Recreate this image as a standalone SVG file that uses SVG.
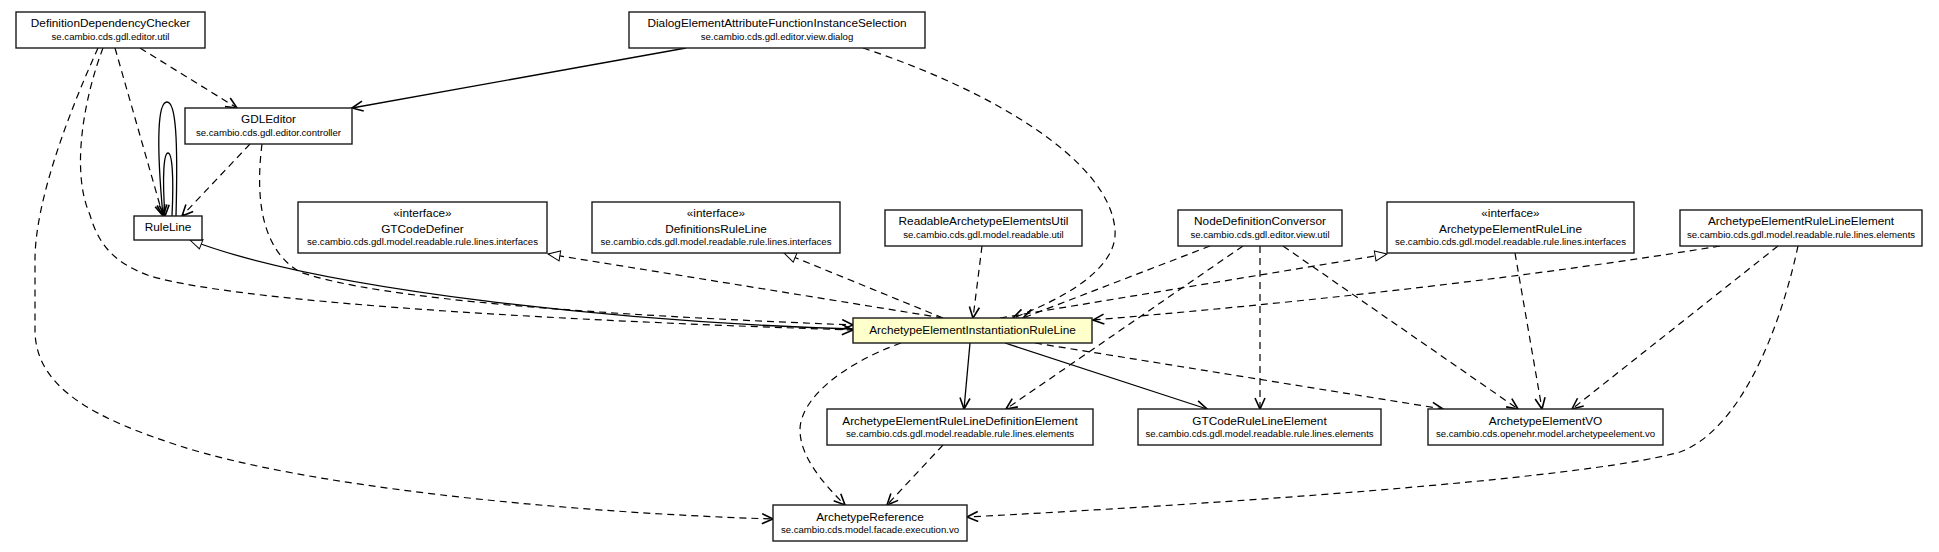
<svg xmlns="http://www.w3.org/2000/svg" width="1939" height="552" viewBox="0 0 1939 552">
<style>
.box{fill:#fff;stroke:#1a1a1a;stroke-width:1.4}
.hl{fill:#ffffcc;stroke:#1a1a1a;stroke-width:1.4}
.t{font-family:"Liberation Sans",Arial,sans-serif;font-size:11.8px;fill:#000;text-anchor:middle}
.p{font-family:"Liberation Sans",Arial,sans-serif;font-size:9.6px;fill:#000;text-anchor:middle}
.dep{fill:none;stroke:#000;stroke-width:1.2;stroke-dasharray:7,5;marker-end:url(#open)}
.use{fill:none;stroke:#000;stroke-width:1.3;marker-end:url(#open)}
.ext{fill:none;stroke:#000;stroke-width:1.3;marker-end:url(#tri)}
.impl{fill:none;stroke:#000;stroke-width:1.2;stroke-dasharray:7,5;marker-end:url(#tri)}
</style>
<defs>
<marker id="open" markerWidth="14" markerHeight="12" refX="12" refY="6" orient="auto" markerUnits="userSpaceOnUse"><path d="M1,1 L12,6 L1,11" fill="none" stroke="#000" stroke-width="1.6"/></marker>
<marker id="tri" markerWidth="15" markerHeight="13" refX="13" refY="6.5" orient="auto" markerUnits="userSpaceOnUse"><path d="M1,1.5 L13,6.5 L1,11.5 Z" fill="#fff" stroke="#000" stroke-width="1"/></marker>
</defs>
<rect width="1939" height="552" fill="#fff"/>
<g id="connectors">
<path class="dep" d="M140,48 L237,108"/>
<path class="dep" d="M115,48 L163,216"/>
<path class="dep" d="M103,48 C85,95 70,170 90,215 C100,250 120,265 150,276 C250,305 600,322 853,330"/>
<path class="dep" d="M98,48 C70,110 35,200 35,260 L35,330 C35,390 100,420 180,446 C300,485 550,512 773,519"/>
<path class="use" d="M686,48 L352,108"/>
<path class="dep" d="M863,48 C990,90 1110,160 1115,230 C1118,270 1060,300 1013,318"/>
<path class="use" d="M176,216 C178,140 176,102 167,102 C158,102 156,140 163,216"/>
<path class="use" d="M172,216 C174,175 172,153 168,153 C164,153 162,175 165,216"/>
<path class="dep" d="M250,144 L182,216"/>
<path class="dep" d="M262,144 C255,200 262,250 300,272 C380,300 600,315 853,325"/>
<path class="ext" d="M853,329 C620,322 320,290 190,240"/>
<path class="impl" d="M943,318 L548,254"/>
<path class="impl" d="M943,318 L784,253"/>
<path class="impl" d="M1000,318 L1387,254"/>
<path class="dep" d="M982,246 L973,318"/>
<path class="dep" d="M1210,246 L1023,318"/>
<path class="dep" d="M1243,246 L1006,409"/>
<path class="dep" d="M1260,246 L1260,409"/>
<path class="dep" d="M1283,246 L1518,409"/>
<path class="dep" d="M1515,253 L1542,409"/>
<path class="dep" d="M1720,246 Q1450,290 1093,320"/>
<path class="dep" d="M1778,246 L1572,409"/>
<path class="dep" d="M1798,246 C1780,330 1740,430 1680,452 C1580,480 1200,505 967,517"/>
<path class="use" d="M970,343 L964,409"/>
<path class="use" d="M1005,343 L1207,409"/>
<path class="dep" d="M1035,343 L1443,409"/>
<path class="dep" d="M901,343 C840,365 800,400 800,430 C800,460 830,490 845,505"/>
<path class="dep" d="M943,445 L887,505"/>
</g>
<g id="DefinitionDependencyChecker"><rect class="box" x="16" y="12" width="189" height="36"/><text class="t" x="110.5" y="27">DefinitionDependencyChecker</text><text class="p" x="110.5" y="39.5">se.cambio.cds.gdl.editor.util</text></g>
<g id="DialogElementAttributeFunctionInstanceSelection"><rect class="box" x="629" y="12" width="296" height="36"/><text class="t" x="777" y="27">DialogElementAttributeFunctionInstanceSelection</text><text class="p" x="777" y="39.5">se.cambio.cds.gdl.editor.view.dialog</text></g>
<g id="GDLEditor"><rect class="box" x="185" y="108" width="167" height="36"/><text class="t" x="268.5" y="123">GDLEditor</text><text class="p" x="268.5" y="135.5">se.cambio.cds.gdl.editor.controller</text></g>
<g id="RuleLine"><rect class="box" x="134" y="216" width="68" height="24"/><text class="t" x="168" y="230.5">RuleLine</text></g>
<g id="GTCodeDefiner"><rect class="box" x="298" y="202" width="249" height="51"/><text class="t" x="422.5" y="216.5">«interface»</text><text class="t" x="422.5" y="232.5">GTCodeDefiner</text><text class="p" x="422.5" y="245">se.cambio.cds.gdl.model.readable.rule.lines.interfaces</text></g>
<g id="DefinitionsRuleLine"><rect class="box" x="592" y="202" width="248" height="51"/><text class="t" x="716" y="216.5">«interface»</text><text class="t" x="716" y="232.5">DefinitionsRuleLine</text><text class="p" x="716" y="245">se.cambio.cds.gdl.model.readable.rule.lines.interfaces</text></g>
<g id="ReadableArchetypeElementsUtil"><rect class="box" x="885" y="210" width="197" height="36"/><text class="t" x="983.5" y="225">ReadableArchetypeElementsUtil</text><text class="p" x="983.5" y="237.5">se.cambio.cds.gdl.model.readable.util</text></g>
<g id="NodeDefinitionConversor"><rect class="box" x="1178" y="210" width="164" height="36"/><text class="t" x="1260" y="225">NodeDefinitionConversor</text><text class="p" x="1260" y="237.5">se.cambio.cds.gdl.editor.view.util</text></g>
<g id="ArchetypeElementRuleLine"><rect class="box" x="1387" y="202" width="247" height="51"/><text class="t" x="1510.5" y="216.5">«interface»</text><text class="t" x="1510.5" y="232.5">ArchetypeElementRuleLine</text><text class="p" x="1510.5" y="245">se.cambio.cds.gdl.model.readable.rule.lines.interfaces</text></g>
<g id="ArchetypeElementRuleLineElement"><rect class="box" x="1680" y="210" width="242" height="36"/><text class="t" x="1801" y="225">ArchetypeElementRuleLineElement</text><text class="p" x="1801" y="237.5">se.cambio.cds.gdl.model.readable.rule.lines.elements</text></g>
<g id="ArchetypeElementInstantiationRuleLine"><rect class="hl" x="853" y="318" width="239" height="25"/><text class="t" x="972.5" y="333.5">ArchetypeElementInstantiationRuleLine</text></g>
<g id="ArchetypeElementRuleLineDefinitionElement"><rect class="box" x="827" y="409" width="266" height="36"/><text class="t" x="960" y="424.5">ArchetypeElementRuleLineDefinitionElement</text><text class="p" x="960" y="437">se.cambio.cds.gdl.model.readable.rule.lines.elements</text></g>
<g id="GTCodeRuleLineElement"><rect class="box" x="1138" y="409" width="243" height="36"/><text class="t" x="1259.5" y="424.5">GTCodeRuleLineElement</text><text class="p" x="1259.5" y="437">se.cambio.cds.gdl.model.readable.rule.lines.elements</text></g>
<g id="ArchetypeElementVO"><rect class="box" x="1428" y="409" width="235" height="36"/><text class="t" x="1545.5" y="424.5">ArchetypeElementVO</text><text class="p" x="1545.5" y="437">se.cambio.cds.openehr.model.archetypeelement.vo</text></g>
<g id="ArchetypeReference"><rect class="box" x="773" y="505" width="194" height="36"/><text class="t" x="870" y="520.5">ArchetypeReference</text><text class="p" x="870" y="533">se.cambio.cds.model.facade.execution.vo</text></g>
</svg>
